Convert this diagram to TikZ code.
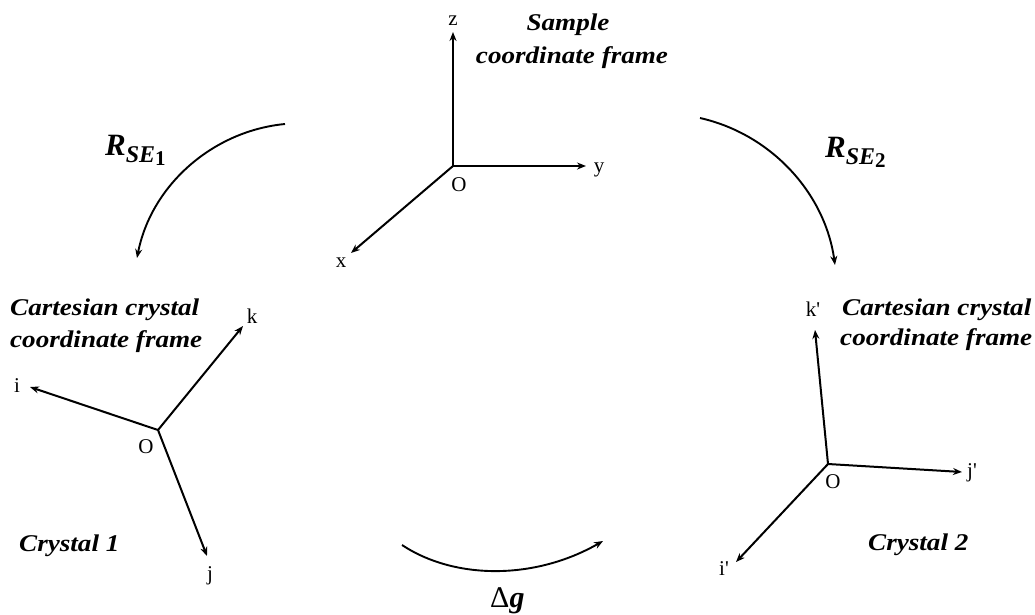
\documentclass[tikz,border=0pt]{standalone}
\usepackage{fontspec}
\setmainfont{Liberation Serif}
\newfontfamily\lblfont[FakeStretch=1.13]{Liberation Serif}
\newfontfamily\axfont[Ligatures=TeXOff]{Liberation Serif}
\usetikzlibrary{arrows.meta}
\tikzset{
  ax/.style={line width=2pt,-{Stealth[length=9pt,width=7pt]}},
  turn/.style={line width=1.9pt,-{Stealth[length=9pt,width=7pt]}},
  axl/.style={anchor=base,inner sep=0pt,font=\axfont\fontsize{21}{21}\selectfont},
  ttl/.style={inner sep=0pt,font=\lblfont\bfseries\itshape\fontsize{24}{24}\selectfont},
  rot/.style={anchor=base west,inner sep=0pt}
}
\newcommand\rlabel[1]{{\bfseries\itshape\fontsize{31}{31}\selectfont R\raisebox{-7pt}{\fontsize{24}{24}\selectfont SE\raisebox{-3pt}{\upshape\fontsize{21}{21}\selectfont #1}}}}
\begin{document}
\begin{tikzpicture}[x=1pt,y=-1pt]
\useasboundingbox (0,0) rectangle (1035,614);
% sample frame
\coordinate (O1) at (453,166);
\coordinate (z1) at (453,32);
\coordinate (y1) at (586,166);
\coordinate (x1) at (351,253);
\draw[ax] (O1) -- (z1);
\draw[ax] (O1) -- (y1);
\draw[ax] (O1) -- (x1);
\node[axl] (lz) at (453,25) {z};
\node[axl] (ly) at (599,172) {y};
\node[axl] (lo1) at (459,191) {O};
\node[axl] (lx) at (341,267) {x};
\node[ttl,anchor=base] (s1) at (568,30) {Sample};
\node[ttl,anchor=base] (s2) at (572,63) {coordinate frame};
% crystal 1
\coordinate (O2) at (158,430);
\coordinate (i2) at (30,387);
\coordinate (k2) at (243,326);
\coordinate (j2) at (207,556);
\draw[ax] (O2) -- (i2);
\draw[ax] (O2) -- (k2);
\draw[ax] (O2) -- (j2);
\node[axl] (li) at (17,392) {i};
\node[axl] (lk) at (252,323) {k};
\node[axl] (lo2) at (146,453) {O};
\node[axl] (lj) at (210,580) {j};
\node[ttl,anchor=base west] (c1a) at (10,315) {Cartesian crystal};
\node[ttl,anchor=base west] (c1b) at (10,347) {coordinate frame};
\node[ttl,anchor=base west] (cr1) at (19,551) {Crystal 1};
% crystal 2
\coordinate (O3) at (828,464);
\coordinate (k3) at (815,330);
\coordinate (j3) at (962,472);
\coordinate (i3) at (736,562);
\draw[ax] (O3) -- (k3);
\draw[ax] (O3) -- (j3);
\draw[ax] (O3) -- (i3);
\node[axl] (lk3) at (813,316) {k'};
\node[axl] (lo3) at (833,488) {O};
\node[axl] (lj3) at (972,477) {j'};
\node[axl] (li3) at (724,575) {i'};
\node[ttl,anchor=base west] (c2a) at (842,315) {Cartesian crystal};
\node[ttl,anchor=base west] (c2b) at (840,345) {coordinate frame};
\node[ttl,anchor=base west] (cr2) at (868,550) {Crystal 2};
% rotations
\coordinate (a1s) at (285,124);
\coordinate (a1e) at (137,258);
\draw[turn] (a1s) .. controls (212,131) and (151,186) .. (a1e);
\coordinate (a2s) at (700,118);
\coordinate (a2e) at (835,265);
\draw[turn] (a2s) .. controls (771,134) and (825,193) .. (a2e);
\coordinate (a3s) at (402,545);
\coordinate (a3e) at (603,541);
\draw[turn] (a3s) .. controls (455,580) and (535,580) .. (a3e);
\node[rot] (r1) at (105,155) {\rlabel{1}};
\node[rot] (r2) at (825,157) {\rlabel{2}};
\node[rot] (dg) at (490,607) {\fontsize{30}{30}\selectfont Δ\textbf{\textit{g}}};
\end{tikzpicture}
\end{document}
